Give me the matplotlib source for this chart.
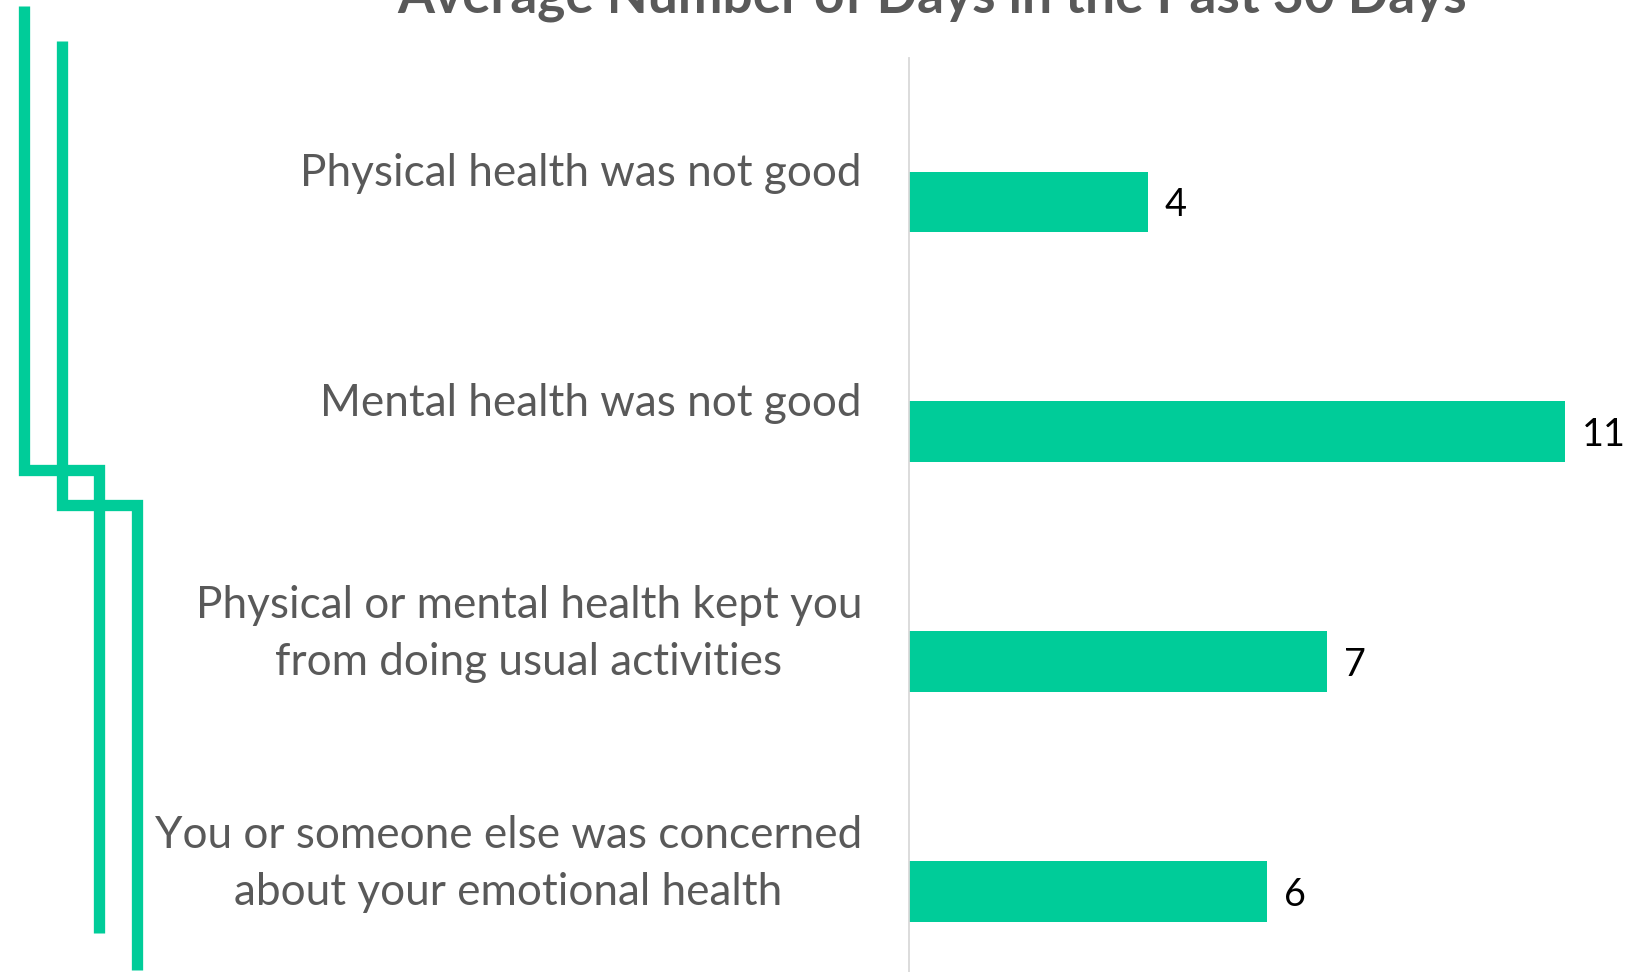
import matplotlib
matplotlib.use("Agg")
import matplotlib.pyplot as plt
from matplotlib.transforms import ScaledTranslation
from matplotlib.lines import Line2D

categories = [
    "Physical health was not good",
    "Mental health was not good",
    "Physical or mental health kept you\nfrom doing usual activities",
    "You or someone else was concerned\nabout your emotional health",
]
values = [4, 11, 7, 6]
title = "Average Number of Days in the Past 30 Days"

GREEN = "#00CC99"
GREY = "#595959"
FONT = "Lato"

W, H = 1645, 972
fig = plt.figure(figsize=(W / 100, H / 100), dpi=100)
fig.patch.set_facecolor("white")

ax_left, ax_right, ax_top = 909, 1625, 58
ax = fig.add_axes([ax_left / W, 0, (ax_right - ax_left) / W, (H - ax_top) / H])
ypos = list(range(len(categories)))
ax.barh(ypos, values, height=0.265, color=GREEN, zorder=2)
ax.set_xlim(0, 12)
ax.set_ylim(3.348, -0.626)
for s in ["top", "right", "bottom"]:
    ax.spines[s].set_visible(False)
ax.spines["left"].set_color("#D9D9D9")
ax.spines["left"].set_linewidth(1.3)
ax.set_xticks([])
ax.set_yticks([])
ax.patch.set_alpha(0)

renderer = fig.canvas.get_renderer()

def fit(t, target):
    t.set_fontsize(30)
    w = t.get_window_extent(renderer).width
    t.set_fontsize(30 * target / w)

# category labels
lab_tr = ax.get_yaxis_transform() + ScaledTranslation(-47 / 100, 28 / 100, fig.dpi_scale_trans)
labels = []
for y, c in zip(ypos, categories):
    t = ax.text(0, y, c, transform=lab_tr, ha="right", va="center",
                multialignment="center", color=GREY, family=FONT, linespacing=1.5)
    labels.append(t)
fit(labels[0], 561)
fs = labels[0].get_fontsize()
for t in labels[1:]:
    t.set_fontsize(fs)

# value labels
val_tr = ax.transData + ScaledTranslation(17 / 100, 0, fig.dpi_scale_trans)
for y, v in zip(ypos, values):
    ax.text(v, y, f"{v}", transform=val_tr, ha="left", va="center_baseline",
            color="black", family=FONT, fontsize=fs * 0.86)

# title (cropped at top)
tt = fig.text(932 / W, 1 - 12.5 / H, title, ha="center", va="baseline",
              color=GREY, family=FONT, fontweight="bold")
fit(tt, 1067)

# decorative lines (figure pixel coords)
def deco(xs, ys):
    ln = Line2D([x / W for x in xs], [1 - y / H for y in ys], transform=fig.transFigure,
                color=GREEN, linewidth=11.3 * 0.72, solid_joinstyle="miter",
                solid_capstyle="butt")
    fig.add_artist(ln)

deco([24, 24, 99.3, 99.3], [6, 470, 470, 933])
deco([61.5, 61.5, 136.5, 136.5], [41.5, 505.5, 505.5, 970])

fig.savefig("out.png", dpi=100, facecolor="white")
